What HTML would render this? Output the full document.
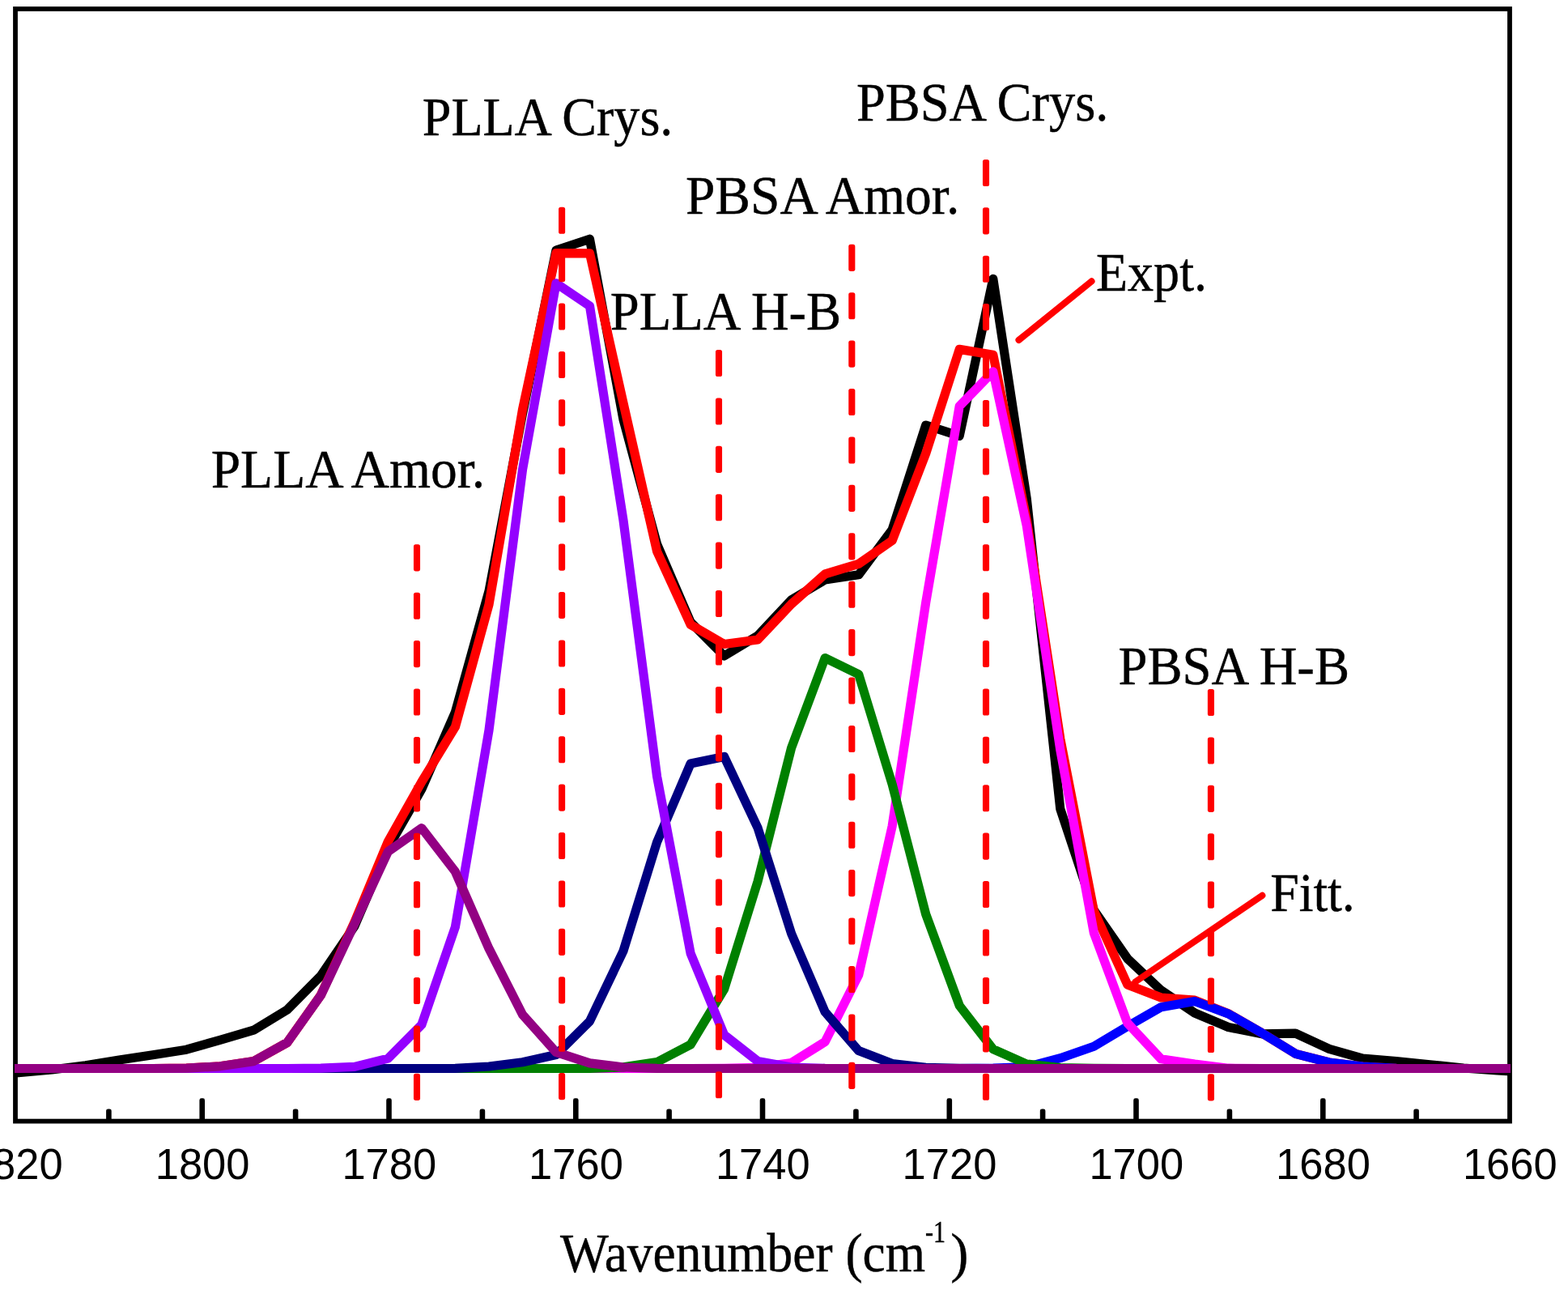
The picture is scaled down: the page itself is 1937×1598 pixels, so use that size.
<!DOCTYPE html>
<html lang="en"><head><meta charset="utf-8"><title>FTIR peak fitting</title>
<style>html,body{margin:0;padding:0;background:#fff}svg{display:block}</style></head>
<body>
<svg width="1937" height="1598" viewBox="0 0 1937 1598">
<rect width="1937" height="1598" fill="#fff"/>
<defs><clipPath id="c"><rect x="18" y="11" width="1848" height="1374"/></clipPath></defs>
<rect x="19" y="11" width="1846" height="1373.6" fill="none" stroke="#000" stroke-width="5.8"/>
<g fill="#000">
<rect x="131.1" y="1369.4" width="6.6" height="16.6" rx="2.4"/>
<rect x="246.4" y="1356.3" width="6.6" height="29.7" rx="2.4"/>
<rect x="361.8" y="1369.4" width="6.6" height="16.6" rx="2.4"/>
<rect x="477.2" y="1356.3" width="6.6" height="29.7" rx="2.4"/>
<rect x="592.6" y="1369.4" width="6.6" height="16.6" rx="2.4"/>
<rect x="708.0" y="1356.3" width="6.6" height="29.7" rx="2.4"/>
<rect x="823.3" y="1369.4" width="6.6" height="16.6" rx="2.4"/>
<rect x="938.7" y="1356.3" width="6.6" height="29.7" rx="2.4"/>
<rect x="1054.1" y="1369.4" width="6.6" height="16.6" rx="2.4"/>
<rect x="1169.5" y="1356.3" width="6.6" height="29.7" rx="2.4"/>
<rect x="1284.8" y="1369.4" width="6.6" height="16.6" rx="2.4"/>
<rect x="1400.2" y="1356.3" width="6.6" height="29.7" rx="2.4"/>
<rect x="1515.6" y="1369.4" width="6.6" height="16.6" rx="2.4"/>
<rect x="1631.0" y="1356.3" width="6.6" height="29.7" rx="2.4"/>
<rect x="1746.3" y="1369.4" width="6.6" height="16.6" rx="2.4"/>
</g>
<g fill="none" stroke-linejoin="round" stroke-linecap="butt" clip-path="url(#c)">
<polyline points="-18.8,1327.0 22.7,1324.7 64.2,1321.0 105.7,1315.8 147.2,1309.0 188.8,1302.8 230.3,1296.2 271.8,1284.3 313.3,1272.2 354.8,1247.0 396.4,1205.0 437.9,1143.9 479.4,1047.2 520.9,974.5 562.4,879.5 604.0,730.0 645.5,510.8 687.0,309.0 728.5,295.2 770.0,518.0 811.6,672.0 853.1,768.3 894.6,810.0 936.1,785.0 977.6,740.8 1019.2,716.0 1060.7,709.8 1102.2,654.0 1143.7,525.0 1185.2,538.4 1226.8,344.4 1268.3,616.0 1309.8,999.0 1351.3,1124.0 1392.8,1183.8 1434.4,1223.0 1475.9,1251.0 1517.4,1268.5 1558.9,1276.8 1600.4,1276.2 1642.0,1295.4 1683.5,1307.2 1725.0,1310.7 1766.5,1314.7 1808.0,1319.0 1849.6,1322.0 1891.1,1324.0" stroke="#000000" stroke-width="11.2"/>
<polyline points="-18.8,1319.5 22.7,1319.5 64.2,1319.5 105.7,1319.5 147.2,1319.5 188.8,1319.5 230.3,1319.2 271.8,1316.8 313.3,1310.6 354.8,1287.5 396.4,1228.7 437.9,1138.9 479.4,1039.2 520.9,965.5 562.4,897.7 604.0,746.5 645.5,505.8 687.0,312.7 728.5,312.8 770.0,497.8 811.6,681.0 853.1,771.3 894.6,795.5 936.1,790.0 977.6,746.0 1019.2,708.8 1060.7,696.4 1102.2,667.5 1143.7,560.0 1185.2,431.4 1226.8,438.2 1268.3,642.0 1309.8,912.2 1351.3,1124.7 1392.8,1216.0 1434.4,1232.0 1475.9,1235.2 1517.4,1251.7 1558.9,1275.7 1600.4,1301.3 1642.0,1312.0 1683.5,1317.0 1725.0,1319.3 1766.5,1319.5 1808.0,1319.5 1849.6,1319.5 1891.1,1319.5" stroke="#ff0000" stroke-width="11.2"/>
<polyline points="-18.8,1319.5 22.7,1319.5 64.2,1319.5 105.7,1319.5 147.2,1319.5 188.8,1319.5 230.3,1319.5 271.8,1319.5 313.3,1319.5 354.8,1319.5 396.4,1319.5 437.9,1319.5 479.4,1319.5 520.9,1319.5 562.4,1319.5 604.0,1319.5 645.5,1319.5 687.0,1319.5 728.5,1319.5 770.0,1319.5 811.6,1319.5 853.1,1319.5 894.6,1319.5 936.1,1319.5 977.6,1319.5 1019.2,1319.5 1060.7,1319.5 1102.2,1319.5 1143.7,1319.5 1185.2,1319.5 1226.8,1319.2 1268.3,1317.7 1309.8,1306.7 1351.3,1292.3 1392.8,1267.5 1434.4,1243.7 1475.9,1236.5 1517.4,1252.0 1558.9,1275.7 1600.4,1301.3 1642.0,1312.0 1683.5,1317.0 1725.0,1319.3 1766.5,1319.5 1808.0,1319.5 1849.6,1319.5 1891.1,1319.5" stroke="#0000ff" stroke-width="11.2"/>
<polyline points="-18.8,1319.5 22.7,1319.5 64.2,1319.5 105.7,1319.5 147.2,1319.5 188.8,1319.5 230.3,1319.5 271.8,1319.5 313.3,1319.5 354.8,1319.5 396.4,1319.5 437.9,1319.5 479.4,1319.5 520.9,1319.5 562.4,1319.5 604.0,1319.5 645.5,1319.5 687.0,1319.5 728.5,1319.5 770.0,1319.5 811.6,1319.5 853.1,1319.5 894.6,1319.4 936.1,1318.4 977.6,1312.5 1019.2,1286.6 1060.7,1204.1 1102.2,1019.9 1143.7,744.1 1185.2,501.6 1226.8,458.9 1268.3,649.3 1309.8,926.0 1351.3,1152.0 1392.8,1263.4 1434.4,1307.8 1475.9,1314.0 1517.4,1319.2 1558.9,1319.5 1600.4,1319.5 1642.0,1319.5 1683.5,1319.5 1725.0,1319.5 1766.5,1319.5 1808.0,1319.5 1849.6,1319.5 1891.1,1319.5" stroke="#ff00ff" stroke-width="11.2"/>
<polyline points="-18.8,1319.5 22.7,1319.5 64.2,1319.5 105.7,1319.5 147.2,1319.5 188.8,1319.5 230.3,1319.5 271.8,1319.5 313.3,1319.5 354.8,1319.5 396.4,1319.5 437.9,1319.5 479.4,1319.5 520.9,1319.5 562.4,1319.5 604.0,1319.5 645.5,1319.5 687.0,1319.5 728.5,1319.3 770.0,1317.9 811.6,1311.6 853.1,1290.0 894.6,1221.5 936.1,1088.3 977.6,923.6 1019.2,812.5 1060.7,832.7 1102.2,968.7 1143.7,1129.0 1185.2,1241.8 1226.8,1295.7 1268.3,1314.0 1309.8,1318.5 1351.3,1319.4 1392.8,1319.5 1434.4,1319.5 1475.9,1319.5 1517.4,1319.5 1558.9,1319.5 1600.4,1319.5 1642.0,1319.5 1683.5,1319.5 1725.0,1319.5 1766.5,1319.5 1808.0,1319.5 1849.6,1319.5 1891.1,1319.5" stroke="#008000" stroke-width="11.2"/>
<polyline points="-18.8,1319.5 22.7,1319.5 64.2,1319.5 105.7,1319.5 147.2,1319.5 188.8,1319.5 230.3,1319.5 271.8,1319.5 313.3,1319.5 354.8,1319.5 396.4,1319.5 437.9,1319.5 479.4,1319.5 520.9,1319.5 562.4,1319.4 604.0,1317.0 645.5,1311.8 687.0,1302.5 728.5,1261.2 770.0,1174.4 811.6,1039.9 853.1,943.0 894.6,934.4 936.1,1022.4 977.6,1152.9 1019.2,1249.7 1060.7,1297.6 1102.2,1313.5 1143.7,1318.3 1185.2,1319.3 1226.8,1319.5 1268.3,1319.5 1309.8,1319.5 1351.3,1319.5 1392.8,1319.5 1434.4,1319.5 1475.9,1319.5 1517.4,1319.5 1558.9,1319.5 1600.4,1319.5 1642.0,1319.5 1683.5,1319.5 1725.0,1319.5 1766.5,1319.5 1808.0,1319.5 1849.6,1319.5 1891.1,1319.5" stroke="#000080" stroke-width="11.2"/>
<polyline points="-18.8,1319.5 22.7,1319.5 64.2,1319.5 105.7,1319.5 147.2,1319.5 188.8,1319.5 230.3,1319.5 271.8,1319.5 313.3,1319.5 354.8,1319.5 396.4,1319.2 437.9,1317.4 479.4,1307.1 520.9,1265.4 562.4,1144.8 604.0,901.8 645.5,580.0 687.0,349.8 728.5,377.9 770.0,642.5 811.6,959.0 853.1,1177.3 894.6,1278.0 936.1,1310.5 977.6,1318.1 1019.2,1319.3 1060.7,1319.5 1102.2,1319.5 1143.7,1319.5 1185.2,1319.5 1226.8,1319.5 1268.3,1319.5 1309.8,1319.5 1351.3,1319.5 1392.8,1319.5 1434.4,1319.5 1475.9,1319.5 1517.4,1319.5 1558.9,1319.5 1600.4,1319.5 1642.0,1319.5 1683.5,1319.5 1725.0,1319.5 1766.5,1319.5 1808.0,1319.5 1849.6,1319.5 1891.1,1319.5" stroke="#9400ff" stroke-width="11.2"/>
<polyline points="-18.8,1319.5 22.7,1319.5 64.2,1319.5 105.7,1319.5 147.2,1319.5 188.8,1319.5 230.3,1319.2 271.8,1316.8 313.3,1310.6 354.8,1287.5 396.4,1229.0 437.9,1141.0 479.4,1051.6 520.9,1022.7 562.4,1076.4 604.0,1171.4 645.5,1253.0 687.0,1299.4 728.5,1312.9 770.0,1318.0 811.6,1319.4 853.1,1319.5 894.6,1319.5 936.1,1319.5 977.6,1319.5 1019.2,1319.5 1060.7,1319.5 1102.2,1319.5 1143.7,1319.5 1185.2,1319.5 1226.8,1319.5 1268.3,1319.5 1309.8,1319.5 1351.3,1319.5 1392.8,1319.5 1434.4,1319.5 1475.9,1319.5 1517.4,1319.5 1558.9,1319.5 1600.4,1319.5 1642.0,1319.5 1683.5,1319.5 1725.0,1319.5 1766.5,1319.5 1808.0,1319.5 1849.6,1319.5 1891.1,1319.5" stroke="#930083" stroke-width="11.2"/>
</g>
<g fill="#ff0000">
<rect x="510.95" y="672.3" width="8.1" height="33.1" rx="2.6"/>
<rect x="510.95" y="731.7" width="8.1" height="33.1" rx="2.6"/>
<rect x="510.95" y="791.1" width="8.1" height="33.1" rx="2.6"/>
<rect x="510.95" y="850.5" width="8.1" height="33.1" rx="2.6"/>
<rect x="510.95" y="909.9" width="8.1" height="33.1" rx="2.6"/>
<rect x="510.95" y="969.3" width="8.1" height="33.1" rx="2.6"/>
<rect x="510.95" y="1028.8" width="8.1" height="33.1" rx="2.6"/>
<rect x="510.95" y="1088.2" width="8.1" height="33.1" rx="2.6"/>
<rect x="510.95" y="1147.6" width="8.1" height="33.1" rx="2.6"/>
<rect x="510.95" y="1207.0" width="8.1" height="33.1" rx="2.6"/>
<rect x="510.95" y="1266.4" width="8.1" height="33.1" rx="2.6"/>
<rect x="510.95" y="1325.8" width="8.1" height="33.1" rx="2.6"/>
<rect x="690.05" y="255.7" width="8.1" height="33.1" rx="2.6"/>
<rect x="690.05" y="315.1" width="8.1" height="33.1" rx="2.6"/>
<rect x="690.05" y="374.5" width="8.1" height="33.1" rx="2.6"/>
<rect x="690.05" y="433.9" width="8.1" height="33.1" rx="2.6"/>
<rect x="690.05" y="493.3" width="8.1" height="33.1" rx="2.6"/>
<rect x="690.05" y="552.7" width="8.1" height="33.1" rx="2.6"/>
<rect x="690.05" y="612.2" width="8.1" height="33.1" rx="2.6"/>
<rect x="690.05" y="671.6" width="8.1" height="33.1" rx="2.6"/>
<rect x="690.05" y="731.0" width="8.1" height="33.1" rx="2.6"/>
<rect x="690.05" y="790.4" width="8.1" height="33.1" rx="2.6"/>
<rect x="690.05" y="849.8" width="8.1" height="33.1" rx="2.6"/>
<rect x="690.05" y="909.2" width="8.1" height="33.1" rx="2.6"/>
<rect x="690.05" y="968.6" width="8.1" height="33.1" rx="2.6"/>
<rect x="690.05" y="1028.0" width="8.1" height="33.1" rx="2.6"/>
<rect x="690.05" y="1087.4" width="8.1" height="33.1" rx="2.6"/>
<rect x="690.05" y="1146.8" width="8.1" height="33.1" rx="2.6"/>
<rect x="690.05" y="1206.3" width="8.1" height="33.1" rx="2.6"/>
<rect x="690.05" y="1265.7" width="8.1" height="33.1" rx="2.6"/>
<rect x="690.05" y="1325.1" width="8.1" height="33.1" rx="2.6"/>
<rect x="883.95" y="432.0" width="8.1" height="33.1" rx="2.6"/>
<rect x="883.95" y="491.4" width="8.1" height="33.1" rx="2.6"/>
<rect x="883.95" y="550.8" width="8.1" height="33.1" rx="2.6"/>
<rect x="883.95" y="610.2" width="8.1" height="33.1" rx="2.6"/>
<rect x="883.95" y="669.6" width="8.1" height="33.1" rx="2.6"/>
<rect x="883.95" y="729.0" width="8.1" height="33.1" rx="2.6"/>
<rect x="883.95" y="788.5" width="8.1" height="33.1" rx="2.6"/>
<rect x="883.95" y="847.9" width="8.1" height="33.1" rx="2.6"/>
<rect x="883.95" y="907.3" width="8.1" height="33.1" rx="2.6"/>
<rect x="883.95" y="966.7" width="8.1" height="33.1" rx="2.6"/>
<rect x="883.95" y="1026.1" width="8.1" height="33.1" rx="2.6"/>
<rect x="883.95" y="1085.5" width="8.1" height="33.1" rx="2.6"/>
<rect x="883.95" y="1144.9" width="8.1" height="33.1" rx="2.6"/>
<rect x="883.95" y="1204.3" width="8.1" height="33.1" rx="2.6"/>
<rect x="883.95" y="1263.7" width="8.1" height="33.1" rx="2.6"/>
<rect x="883.95" y="1323.2" width="8.1" height="33.1" rx="2.6"/>
<rect x="1048.25" y="301.8" width="8.1" height="33.1" rx="2.6"/>
<rect x="1048.25" y="361.2" width="8.1" height="33.1" rx="2.6"/>
<rect x="1048.25" y="420.6" width="8.1" height="33.1" rx="2.6"/>
<rect x="1048.25" y="480.0" width="8.1" height="33.1" rx="2.6"/>
<rect x="1048.25" y="539.4" width="8.1" height="33.1" rx="2.6"/>
<rect x="1048.25" y="598.8" width="8.1" height="33.1" rx="2.6"/>
<rect x="1048.25" y="658.3" width="8.1" height="33.1" rx="2.6"/>
<rect x="1048.25" y="717.7" width="8.1" height="33.1" rx="2.6"/>
<rect x="1048.25" y="777.1" width="8.1" height="33.1" rx="2.6"/>
<rect x="1048.25" y="836.5" width="8.1" height="33.1" rx="2.6"/>
<rect x="1048.25" y="895.9" width="8.1" height="33.1" rx="2.6"/>
<rect x="1048.25" y="955.3" width="8.1" height="33.1" rx="2.6"/>
<rect x="1048.25" y="1014.7" width="8.1" height="33.1" rx="2.6"/>
<rect x="1048.25" y="1074.1" width="8.1" height="33.1" rx="2.6"/>
<rect x="1048.25" y="1133.5" width="8.1" height="33.1" rx="2.6"/>
<rect x="1048.25" y="1192.9" width="8.1" height="33.1" rx="2.6"/>
<rect x="1048.25" y="1252.4" width="8.1" height="33.1" rx="2.6"/>
<rect x="1048.25" y="1311.8" width="8.1" height="33.1" rx="2.6"/>
<rect x="1213.95" y="196.9" width="8.1" height="33.1" rx="2.6"/>
<rect x="1213.95" y="256.3" width="8.1" height="33.1" rx="2.6"/>
<rect x="1213.95" y="315.7" width="8.1" height="33.1" rx="2.6"/>
<rect x="1213.95" y="375.1" width="8.1" height="33.1" rx="2.6"/>
<rect x="1213.95" y="434.5" width="8.1" height="33.1" rx="2.6"/>
<rect x="1213.95" y="493.9" width="8.1" height="33.1" rx="2.6"/>
<rect x="1213.95" y="553.4" width="8.1" height="33.1" rx="2.6"/>
<rect x="1213.95" y="612.8" width="8.1" height="33.1" rx="2.6"/>
<rect x="1213.95" y="672.2" width="8.1" height="33.1" rx="2.6"/>
<rect x="1213.95" y="731.6" width="8.1" height="33.1" rx="2.6"/>
<rect x="1213.95" y="791.0" width="8.1" height="33.1" rx="2.6"/>
<rect x="1213.95" y="850.4" width="8.1" height="33.1" rx="2.6"/>
<rect x="1213.95" y="909.8" width="8.1" height="33.1" rx="2.6"/>
<rect x="1213.95" y="969.2" width="8.1" height="33.1" rx="2.6"/>
<rect x="1213.95" y="1028.6" width="8.1" height="33.1" rx="2.6"/>
<rect x="1213.95" y="1088.0" width="8.1" height="33.1" rx="2.6"/>
<rect x="1213.95" y="1147.5" width="8.1" height="33.1" rx="2.6"/>
<rect x="1213.95" y="1206.9" width="8.1" height="33.1" rx="2.6"/>
<rect x="1213.95" y="1266.3" width="8.1" height="33.1" rx="2.6"/>
<rect x="1213.95" y="1325.7" width="8.1" height="33.1" rx="2.6"/>
<rect x="1491.85" y="851.0" width="8.1" height="33.1" rx="2.6"/>
<rect x="1491.85" y="910.4" width="8.1" height="33.1" rx="2.6"/>
<rect x="1491.85" y="969.8" width="8.1" height="33.1" rx="2.6"/>
<rect x="1491.85" y="1029.2" width="8.1" height="33.1" rx="2.6"/>
<rect x="1491.85" y="1088.6" width="8.1" height="33.1" rx="2.6"/>
<rect x="1491.85" y="1148.1" width="8.1" height="33.1" rx="2.6"/>
<rect x="1491.85" y="1207.5" width="8.1" height="33.1" rx="2.6"/>
<rect x="1491.85" y="1266.9" width="8.1" height="33.1" rx="2.6"/>
<rect x="1491.85" y="1326.3" width="8.1" height="33.1" rx="2.6"/>
</g>
<g stroke="#ff0000" stroke-width="8.1" stroke-linecap="round">
<line x1="1258.5" y1="420" x2="1348.5" y2="347.3"/>
<line x1="1402.5" y1="1212.5" x2="1559.3" y2="1105.8"/>
</g>
<g font-family="'Liberation Serif', serif" font-size="68" fill="#000" stroke="#000" stroke-width="0.45">
<text x="521.8000000000001" y="166.7" textLength="309.50902684563755" lengthAdjust="spacingAndGlyphs">PLLA Crys.</text>
<text x="1057.9" y="149.2" textLength="311.5285618729097" lengthAdjust="spacingAndGlyphs">PBSA Crys.</text>
<text x="846.9000000000001" y="263.9" textLength="338.49935779816514" lengthAdjust="spacingAndGlyphs">PBSA Amor.</text>
<text x="753.8" y="406.6" textLength="285.39081002542684" lengthAdjust="spacingAndGlyphs">PLLA H-B</text>
<text x="260.70000000000005" y="602.2" textLength="338.53812307692306" lengthAdjust="spacingAndGlyphs">PLLA Amor.</text>
<text x="1381.5" y="844.7" textLength="285.49832727272724" lengthAdjust="spacingAndGlyphs">PBSA H-B</text>
<text x="1353.9" y="359.1" textLength="137.07848" lengthAdjust="spacingAndGlyphs">Expt.</text>
<text x="1569.2" y="1125.4" textLength="104.60445652173912" lengthAdjust="spacingAndGlyphs">Fitt.</text>
<text x="691.9" y="1570" textLength="451.2" lengthAdjust="spacingAndGlyphs">Wavenumber (cm</text>
<text x="1143" y="1534.3" font-size="37" textLength="25" lengthAdjust="spacingAndGlyphs">-1</text>
<text x="1174.3" y="1570" textLength="22.2" lengthAdjust="spacingAndGlyphs">)</text>
</g>
<g font-family="'Liberation Sans', sans-serif" font-size="54.5" fill="#000" text-anchor="middle">
<text x="19.3" y="1456.2" textLength="116.8" lengthAdjust="spacingAndGlyphs">1820</text>
<text x="250.1" y="1456.2" textLength="116.8" lengthAdjust="spacingAndGlyphs">1800</text>
<text x="480.8" y="1456.2" textLength="116.8" lengthAdjust="spacingAndGlyphs">1780</text>
<text x="711.5" y="1456.2" textLength="116.8" lengthAdjust="spacingAndGlyphs">1760</text>
<text x="942.3" y="1456.2" textLength="116.8" lengthAdjust="spacingAndGlyphs">1740</text>
<text x="1173.0" y="1456.2" textLength="116.8" lengthAdjust="spacingAndGlyphs">1720</text>
<text x="1403.8" y="1456.2" textLength="116.8" lengthAdjust="spacingAndGlyphs">1700</text>
<text x="1634.5" y="1456.2" textLength="116.8" lengthAdjust="spacingAndGlyphs">1680</text>
<text x="1865.3" y="1456.2" textLength="116.8" lengthAdjust="spacingAndGlyphs">1660</text>
</g>
</svg>
</body></html>
